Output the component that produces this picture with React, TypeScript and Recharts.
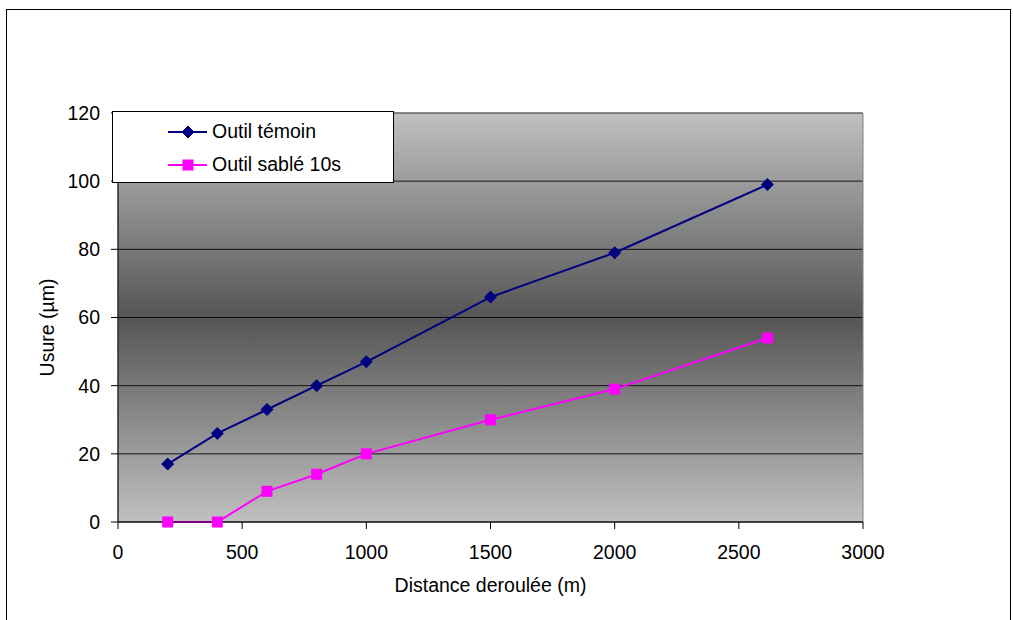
import React from "react";
import {
  LineChart,
  Line,
  XAxis,
  YAxis,
  CartesianGrid,
  ReferenceArea,
  Legend,
  Label,
} from "recharts";

// distances (m) and wear (µm)
const distances = [200, 400, 600, 800, 1000, 1500, 2000, 2615];
const temoin = [17, 26, 33, 40, 47, 66, 79, 99];
const sable10s = [0, 0, 9, 14, 20, 30, 39, 54];

const xTicks = [0, 500, 1000, 1500, 2000, 2500, 3000];
const yTicks = [0, 20, 40, 60, 80, 100, 120];

const NAVY = "#000080";
const MAGENTA = "#FF00FF";
const FONT = "'Liberation Sans', Arial, sans-serif";
const FS = 19.5;

const data = distances.map((d, i) => ({
  distance: d,
  temoin: temoin[i],
  sable: sable10s[i],
}));

function Diamond({ cx, cy, size = 6 }: any) {
  if (cx == null || cy == null) return null;
  return (
    <polygon
      points={`${cx},${cy - size} ${cx + size},${cy} ${cx},${cy + size} ${cx - size},${cy}`}
      fill={NAVY}
      stroke={NAVY}
    />
  );
}

function Square({ cx, cy, size = 5.5 }: any) {
  if (cx == null || cy == null) return null;
  return (
    <rect x={cx - size} y={cy - size} width={size * 2} height={size * 2} fill={MAGENTA} />
  );
}

function LegendBox() {
  const rows = [
    { label: "Outil témoin", color: NAVY, icon: "diamond" },
    { label: "Outil sablé 10s", color: MAGENTA, icon: "square" },
  ];
  return (
    <div
      style={{
        boxSizing: "border-box",
        width: 282,
        height: 72,
        border: "1px solid #000",
        background: "#fff",
        fontFamily: FONT,
        fontSize: FS,
        color: "#000",
        paddingTop: 3,
      }}
    >
      {rows.map((r) => (
        <div key={r.label} style={{ display: "flex", alignItems: "center", height: 33 }}>
          <svg width={99} height={20} style={{ flexShrink: 0 }}>
            <line x1={55} y1={10} x2={94} y2={10} stroke={r.color} strokeWidth={2} />
            {r.icon === "diamond" ? (
              <Diamond cx={75} cy={10} />
            ) : (
              <Square cx={75} cy={10} />
            )}
          </svg>
          <span>{r.label}</span>
        </div>
      ))}
    </div>
  );
}

export default function App() {
  return (
    <div style={{ position: "absolute", left: 0, top: 0, width: 1013, height: 620, background: "#fff", overflow: "hidden" }}>
      <div
        style={{
          position: "absolute",
          left: 6,
          top: 9,
          width: 1005,
          height: 700,
          border: "1px solid #000",
          boxSizing: "border-box",
        }}
      />
      <div style={{ position: "absolute", left: 0, top: 0 }}>
        <LineChart
          width={1013}
          height={620}
          data={data}
          margin={{ top: 113, right: 150, left: 0, bottom: 0 }}
        >
          <defs>
            <linearGradient id="plotBg" x1="0" y1="0" x2="0" y2="1">
              <stop offset="0%" stopColor="#c0c0c0" />
              <stop offset="50%" stopColor="#555555" />
              <stop offset="100%" stopColor="#c0c0c0" />
            </linearGradient>
          </defs>
          <CartesianGrid
            vertical={false}
            stroke="#000"
            strokeOpacity={0.85}
            fill="url(#plotBg)"
            fillOpacity={1}
          />
          <ReferenceArea
            x1={0}
            x2={3000}
            y1={0}
            y2={120}
            fill="none"
            stroke="#808080"
            strokeWidth={1}
            ifOverflow="visible"
          />
          <XAxis
            dataKey="distance"
            type="number"
            domain={[0, 3000]}
            ticks={xTicks}
            height={98}
            stroke="#000"
            tickSize={7}
            tickMargin={16}
            tick={{ fill: "#000", fontSize: FS, fontFamily: FONT }}
          >
            <Label
              content={({ viewBox }: any) => (
                <text
                  x={viewBox.x + viewBox.width / 2}
                  y={viewBox.y + 70}
                  textAnchor="middle"
                  fill="#000"
                  fontSize={FS}
                  fontFamily={FONT}
                >
                  Distance deroulée (m)
                </text>
              )}
            />
          </XAxis>
          <YAxis
            type="number"
            domain={[0, 120]}
            ticks={yTicks}
            width={118}
            stroke="#000"
            tickSize={7}
            tickMargin={11}
            tick={{ fill: "#000", fontSize: FS, fontFamily: FONT }}
          >
            <Label
              content={({ viewBox }: any) => {
                const cx = 47;
                const cy = viewBox.y + viewBox.height / 2 + 10;
                return (
                  <text
                    x={cx}
                    y={cy}
                    dy="0.35em"
                    textAnchor="middle"
                    transform={`rotate(-90, ${cx}, ${cy})`}
                    fill="#000"
                    fontSize={FS}
                    fontFamily={FONT}
                  >
                    Usure (µm)
                  </text>
                );
              }}
            />
          </YAxis>
          <Legend
            layout="vertical"
            align="center"
            verticalAlign="middle"
            content={() => <LegendBox />}
            wrapperStyle={{ position: "absolute", left: 112, top: 111, width: 282, height: 72 }}
          />
          <Line
            dataKey="temoin"
            name="Outil témoin"
            stroke={NAVY}
            strokeWidth={2}
            dot={(p: any) => <Diamond key={`d${p.index}`} cx={p.cx} cy={p.cy} />}
            activeDot={false}
            isAnimationActive={false}
          />
          <Line
            dataKey="sable"
            name="Outil sablé 10s"
            stroke={MAGENTA}
            strokeWidth={2}
            dot={(p: any) => <Square key={`s${p.index}`} cx={p.cx} cy={p.cy} />}
            activeDot={false}
            isAnimationActive={false}
          />
        </LineChart>
      </div>
    </div>
  );
}
